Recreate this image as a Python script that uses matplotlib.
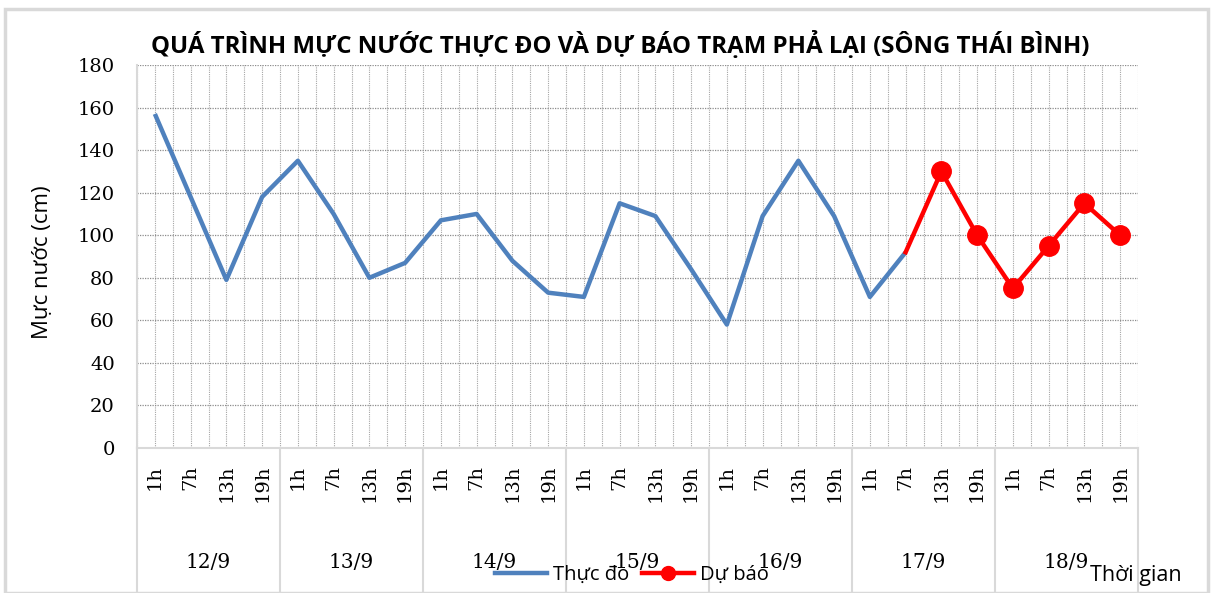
import matplotlib
matplotlib.use("Agg")
import matplotlib.pyplot as plt
import matplotlib.transforms as mtransforms
from matplotlib.patches import Rectangle
from matplotlib.lines import Line2D

days = ["12/9", "13/9", "14/9", "15/9", "16/9", "17/9", "18/9"]
hours = ["1h", "7h", "13h", "19h"]
observed = [157, 118, 79, 118,
            135, 110, 80, 87,
            107, 110, 88, 73,
            71, 115, 109, 84,
            58, 109, 135, 109,
            71, 92]
forecast_start = 21
forecast = [92, 130, 100, 75, 95, 115, 100]
yticks = [0, 20, 40, 60, 80, 100, 120, 140, 160, 180]

title = "QUÁ TRÌNH MỰC NƯỚC THỰC ĐO VÀ DỰ BÁO TRẠM PHẢ LẠI (SÔNG THÁI BÌNH)"
ylabel = "Mực nước (cm)"
xlabel = "Thời gian"
leg_obs = "Thực đo"
leg_fc = "Dự báo"

SANS = ["Open Sans", "DejaVu Sans"]
SERIF = ["DejaVu Serif", "Liberation Serif"]

fig = plt.figure(figsize=(12.16, 5.93), dpi=100)
W, H = 1216, 593
# outer frame
fig.patches.append(Rectangle((5 / W, 0), (1208 - 5) / W, (593 - 9) / H, transform=fig.transFigure,
                             fill=False, edgecolor="#d9d9d9", linewidth=2.5))

L, R, T, B = 137, 1138, 65, 448
ax = fig.add_axes([L / W, 1 - B / H, (R - L) / W, (B - T) / H])

n = len(days) * len(hours)
xs_obs = list(range(len(observed)))
xs_fc = list(range(forecast_start, forecast_start + len(forecast)))

ax.set_xlim(-0.5, n - 0.5)
ax.set_ylim(0, 180)

# gridlines
for k in range(2 * n + 1):
    xv = -0.5 + k * 0.5
    ax.axvline(xv, color="#a6a6a6", linestyle=(0, (1, 1)), linewidth=0.8, zorder=0)
for yv in yticks[1:]:
    ax.axhline(yv, color="#8c8c8c", linestyle=(0, (1, 1)), linewidth=0.9, zorder=0)

ax.plot(xs_obs, observed, color="#4F81BD", linewidth=3.2, solid_capstyle="butt", zorder=3)
ax.plot(xs_fc, forecast, color="#FF0000", linewidth=3.2, zorder=4)
ax.plot(xs_fc[1:], forecast[1:], color="#FF0000", linestyle="none", marker="o", markersize=14, zorder=5)

for s in ["top", "right"]:
    ax.spines[s].set_visible(False)
ax.spines["left"].set_color("#d9d9d9")
ax.spines["bottom"].set_color("#d9d9d9")
ax.spines["left"].set_linewidth(1.5)
ax.spines["bottom"].set_linewidth(1.5)

ax.set_yticks(yticks)
ax.set_yticklabels([str(v) for v in yticks], fontfamily=SERIF, fontsize=14)
ax.tick_params(axis="y", length=0, pad=16)

ax.set_xticks(range(n))
ax.set_xticklabels(hours * len(days), rotation=90, fontfamily=SERIF, fontsize=14)
ax.tick_params(axis="x", length=0, pad=12)

trans = mtransforms.blended_transform_factory(ax.transData, ax.transAxes)
bottom_ax = -(593 - B) / (B - T)
for i in range(len(days) + 1):
    xv = -0.5 + i * len(hours)
    ax.add_line(Line2D([xv, xv], [0, bottom_ax], transform=trans, color="#d9d9d9",
                       linewidth=1.5, clip_on=False))
for i, d in enumerate(days):
    ax.text(-0.5 + i * len(hours) + len(hours) / 2, -(562 - B) / (B - T), d, transform=trans,
            ha="center", va="center", fontfamily=SERIF, fontsize=14.5)

fig.text(620 / W, 1 - 45 / H, title, ha="center", va="center", fontfamily=SANS,
         fontweight="bold", fontsize=17.3)
fig.text(42 / W, 1 - 262 / H, ylabel, ha="center", va="center", rotation=90,
         fontfamily=SANS, fontsize=16)
fig.text(1136 / W, 1 - 576 / H, xlabel, ha="center", va="center", fontfamily=SANS, fontsize=15.5)

handles = [Line2D([], [], color="#4F81BD", linewidth=3.2),
           Line2D([], [], color="#FF0000", linewidth=3.2, marker="o", markersize=10)]
fig.legend(handles, [leg_obs, leg_fc], loc="center", bbox_to_anchor=(632 / W, 1 - 575 / H),
           ncol=2, frameon=False, prop={"family": SANS, "size": 14.5}, handlelength=2.6,
           handletextpad=0.3, columnspacing=0.6)

fig.savefig("out.png", dpi=100, facecolor="white")
